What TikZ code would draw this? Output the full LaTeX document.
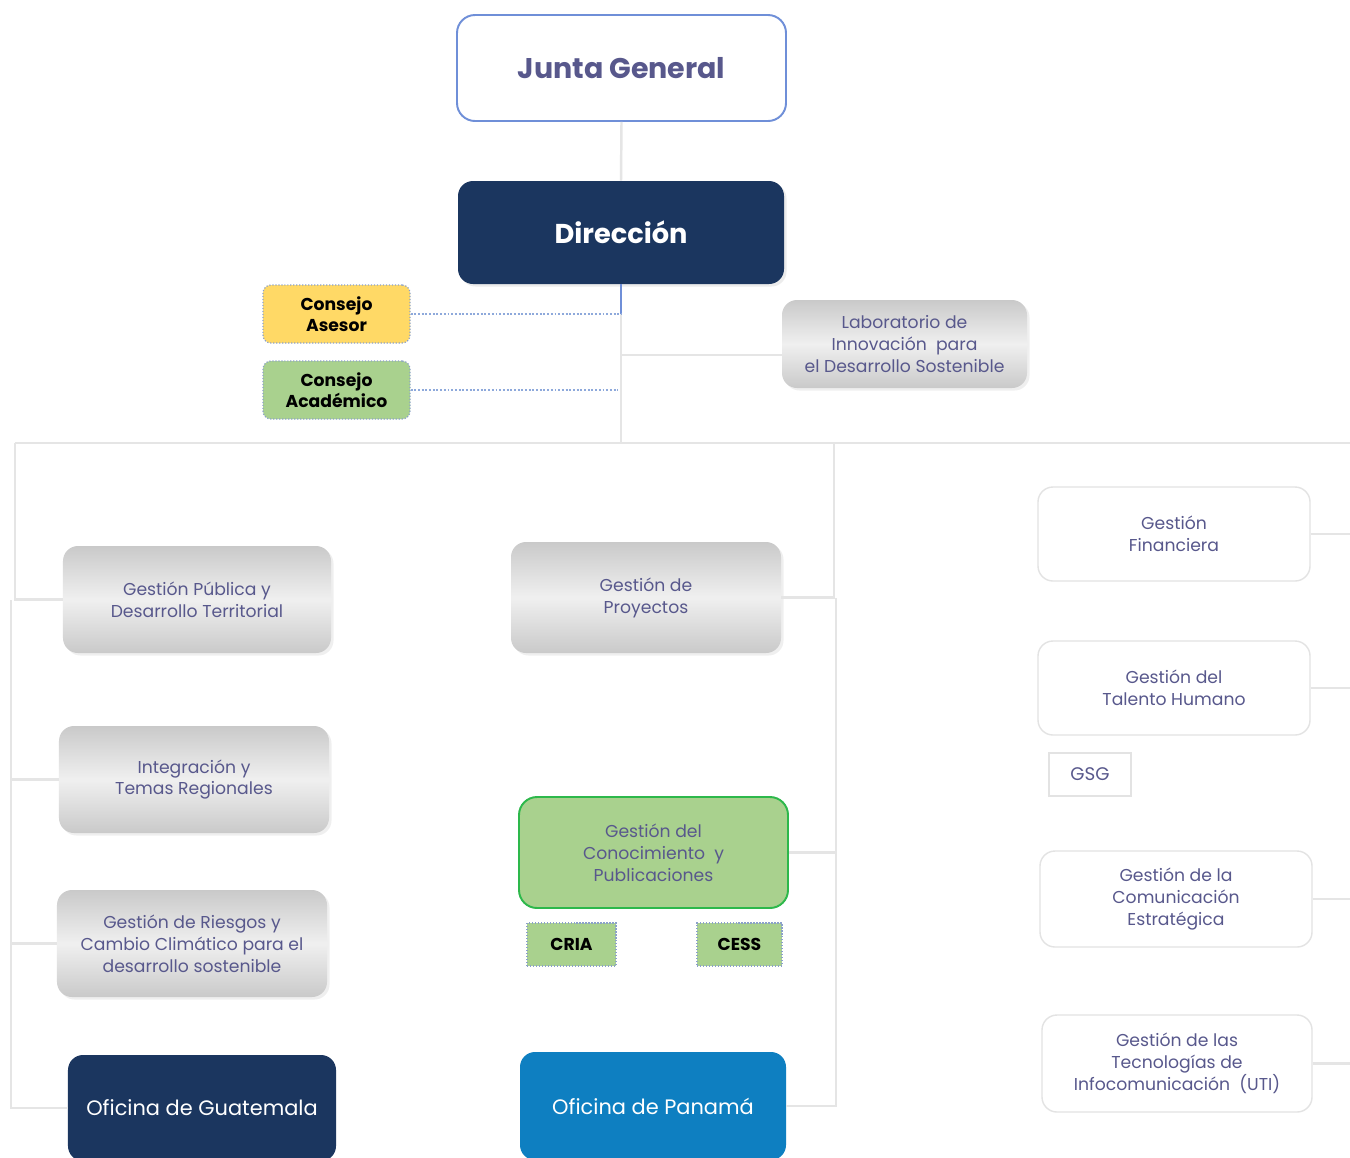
\documentclass[tikz,border=0pt]{standalone}
\usepackage{fontspec}
\setmainfont{Poppins}
\usetikzlibrary{shadows}

\definecolor{navy}{RGB}{27,54,95}
\definecolor{panblue}{RGB}{14,127,193}
\definecolor{lgreen}{RGB}{169,209,142}
\definecolor{dgreen}{RGB}{45,184,75}
\definecolor{lyellow}{RGB}{255,217,102}
\definecolor{txtc}{RGB}{88,88,140}
\definecolor{jborder}{RGB}{111,143,216}
\definecolor{dotc}{RGB}{142,169,219}
\definecolor{linec}{RGB}{229,229,229}

\tikzset{
  base/.style={inner sep=0pt, align=center},
  graybox/.style={base, rounded corners=3mm, top color=gray!42, bottom color=gray!42, middle color=gray!12,
    text=txtc, font=\fontsize{9.8}{12.5}\selectfont,
    drop shadow={opacity=0.12, shadow xshift=0.5mm, shadow yshift=-0.5mm}},
  whitebox/.style={base, rounded corners=3mm, draw=gray!22, line width=0.8pt, fill=white,
    text=txtc, font=\fontsize{9.8}{12.5}\selectfont},
  darkbox/.style={base, rounded corners=3mm, fill=navy, text=white},
  councilbox/.style={base, rounded corners=1.6mm, draw=dotc!80!gray, densely dotted, line width=0.7pt,
    text=black, font=\bfseries\fontsize{9.8}{12}\selectfont, minimum width=29.4mm, minimum height=11.6mm},
  tagbox/.style={base, draw=dotc!80!gray, densely dotted, line width=0.7pt, fill=lgreen,
    text=black, font=\bfseries\fontsize{9.8}{10}\selectfont, minimum height=8.6mm},
  conn/.style={draw=linec, line width=1.4pt},
  dotconn/.style={draw=dotc, densely dotted, line width=1.1pt},
}

\begin{document}
\begin{tikzpicture}[x=0.2mm,y=-0.2mm]
\clip (0,0) rectangle (1350,1157);
\fill[white] (0,0) rectangle (1350,1157);

% top of the chart
\node[base, rounded corners=3.6mm, draw=jborder, line width=1.1pt, fill=white, text=txtc,
  font=\bfseries\fontsize{16.2}{18}\selectfont, minimum width=65.8mm, minimum height=21.2mm] (jg) at (621.5,68) {Junta General};
\node[darkbox, font=\bfseries\fontsize{15.5}{17}\selectfont, minimum width=65.2mm, minimum height=20.6mm,
  drop shadow={opacity=0.15, shadow xshift=0.5mm, shadow yshift=-0.5mm}] (dir) at (621,232.5) {Dirección};

\node[councilbox, fill=lyellow] (casesor) at (336.5,314) {Consejo\\Asesor};
\node[councilbox, fill=lgreen] (cacad) at (336.5,390) {Consejo\\Académico};
\node[graybox, minimum width=49mm, minimum height=17.6mm] (lab) at (904.5,344) {Laboratorio de\\Innovación\ \ para\\el Desarrollo Sostenible};

% left column
\node[graybox, minimum width=53.6mm, minimum height=21.4mm] (gpub) at (197,599.5) {Gestión Pública y\\Desarrollo Territorial};
\node[graybox, minimum width=54mm, minimum height=21.4mm] (integ) at (194,779.5) {Integración y\\Temas Regionales};
\node[graybox, minimum width=54mm, minimum height=21.4mm] (griesgo) at (192,943.5) {Gestión de Riesgos y\\Cambio Climático para el\\desarrollo sostenible};
\node[darkbox, font=\fontsize{11.9}{14}\selectfont, minimum width=53.6mm, minimum height=21.2mm] (ofgua) at (202,1108) {Oficina de Guatemala};

% middle column
\node[graybox, minimum width=54mm, minimum height=22.2mm] (gproy) at (646,597.5) {Gestión de\\Proyectos};
\node[base, rounded corners=3.6mm, draw=dgreen, line width=1.1pt, fill=lgreen, text=txtc,
  font=\fontsize{9.8}{12.5}\selectfont, minimum width=53.8mm, minimum height=22.2mm] (gcon) at (653.5,852.5) {Gestión del\\Conocimiento\ \ y\\Publicaciones};
\node[tagbox, minimum width=17.8mm] (cria) at (571.5,944.5) {CRIA};
\node[tagbox, minimum width=17mm] (cess) at (739.5,944.5) {CESS};
\node[base, rounded corners=3mm, fill=panblue, text=white, font=\fontsize{11.9}{14}\selectfont,
  minimum width=53.2mm, minimum height=21.6mm] (ofpan) at (653,1106) {Oficina de Panamá};

% right column
\node[whitebox, minimum width=54.4mm, minimum height=18.8mm] (gfin) at (1174,534) {Gestión\\Financiera};
\node[whitebox, minimum width=54.4mm, minimum height=18.8mm] (gtal) at (1174,688) {Gestión del\\Talento Humano};
\node[base, draw=gray!22, line width=0.8pt, fill=white, text=txtc, font=\fontsize{10.4}{10}\selectfont,
  minimum width=16.4mm, minimum height=8.6mm] (gsg) at (1090,774.5) {GSG};
\node[whitebox, minimum width=54.4mm, minimum height=19.2mm] (gcom) at (1176,899) {Gestión de la\\Comunicación\\Estratégica};
\node[whitebox, minimum width=54mm, minimum height=19.4mm] (gtic) at (1177,1063.5) {Gestión de las\\Tecnologías de\\Infocomunicación\ \ (UTI)};

% connectors
\coordinate (asj) at (621,314);
\coordinate (acj) at (618,390);
\coordinate (labj) at (621,355);
\coordinate (trunk) at (621,443);
\coordinate (lbus) at (15,443);
\coordinate (rbus) at (1350,443);
\coordinate (mbus) at (834,443);
\coordinate (lrail) at (11,600);
\coordinate (mrail) at (836,598);
\coordinate (redge) at (1350,0);

\draw[conn] (jg.south) -- (dir.north);
\draw[draw=jborder, line width=0.8pt] (dir.south) -- (asj);
\draw[conn] (asj) -- (trunk);
\draw[dotconn] (casesor.east) -- (asj);
\draw[dotconn] (cacad.east) -- (acj);
\draw[conn] (labj) -- (labj -| lab.west);
\draw[conn] (lbus) -- (rbus);
\draw[conn] (lbus) |- (gpub.west);
\draw[conn] (lrail) |- (ofgua.west);
\draw[conn] (integ.west) -- (integ.west -| lrail);
\draw[conn] (griesgo.west) -- (griesgo.west -| lrail);
\draw[conn] (mbus) |- (gproy.east);
\draw[conn] (mrail) |- (ofpan.east);
\draw[conn] (gcon.east) -- (gcon.east -| mrail);
\draw[conn] (gfin.east) -- (gfin.east -| redge);
\draw[conn] (gtal.east) -- (gtal.east -| redge);
\draw[conn] (gcom.east) -- (gcom.east -| redge);
\draw[conn] (gtic.east) -- (gtic.east -| redge);
\end{tikzpicture}
\end{document}
